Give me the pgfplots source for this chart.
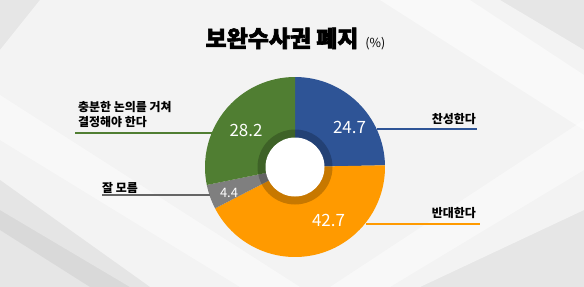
\documentclass[border=0pt]{standalone}
\usepackage{pgfplots}
\pgfplotsset{compat=1.18}
\usepackage{fontspec}
\setmainfont{Noto Sans CJK KR}
\newfontfamily\titlefont[BoldFeatures={FakeBold=2.6}]{Noto Sans CJK KR}
\definecolor{cBlue}{HTML}{2E5496}
\definecolor{cOrange}{HTML}{FF9A00}
\definecolor{cGreen}{HTML}{507E32}
\definecolor{cGray}{HTML}{7F7F7F}
\definecolor{bgA}{HTML}{E6E6E6}
\begin{document}
\begin{tikzpicture}
\begin{axis}[hide axis, scale only axis, width=584bp, height=287bp,
  xmin=0, xmax=584, ymin=0, ymax=287, y dir=reverse, clip=false]
% background
\fill[bgA] (axis cs:0,0) rectangle (axis cs:584,287);
\fill[white, opacity=0.55] (axis cs:40,0) -- (axis cs:500,0) -- (axis cs:584,50) -- (axis cs:584,210) -- (axis cs:420,287) -- (axis cs:130,287) -- (axis cs:0,210) -- (axis cs:0,50) -- cycle;
\fill[white, opacity=0.45] (axis cs:0,95) -- (axis cs:0,140) -- (axis cs:240,287) -- (axis cs:300,287) -- cycle;
\fill[white, opacity=0.45] (axis cs:584,120) -- (axis cs:584,170) -- (axis cs:390,287) -- (axis cs:330,287) -- cycle;
\fill[white, opacity=0.5] (axis cs:380,0) -- (axis cs:470,0) -- (axis cs:584,75) -- (axis cs:584,130) -- cycle;
\fill[gray, opacity=0.12] (axis cs:0,180) -- (axis cs:0,230) -- (axis cs:90,287) -- (axis cs:150,287) -- cycle;
% donut
\pgfplotsextra{
  \xdef\angstart{90}
  \foreach \v/\c in {24.7/cBlue, 42.7/cOrange, 4.4/cGray, 28.2/cGreen}{
    \pgfmathsetmacro\angend{\angstart-\v*3.6}
    \fill[\c] (axis cs:295,167) -- ++(\angstart:90bp) arc[start angle=\angstart, end angle=\angend, radius=90bp] -- cycle;
    \xdef\angstart{\angend}
  }
  \fill[black, opacity=0.22] (axis cs:295,167) circle[radius=37.5bp];
  \fill[white] (axis cs:295,167) circle[radius=29.5bp];
}
% values
\node[anchor=base, text=white, font=\fontsize{17}{20}\selectfont] at (axis cs:349.5,133.5) {24.7};
\node[anchor=base, text=white, font=\fontsize{17}{20}\selectfont] at (axis cs:328.5,226) {42.7};
\node[anchor=base, text=white, font=\fontsize{13}{15}\selectfont] at (axis cs:229,197) {4.4};
\node[anchor=base, text=white, font=\fontsize{17}{20}\selectfont] at (axis cs:246,136) {28.2};
% leader lines
\draw[cBlue, line width=1.5bp] (axis cs:377,129) -- (axis cs:477,129);
\draw[cOrange, line width=1.5bp] (axis cs:366,224) -- (axis cs:480,224);
\draw[cGreen, line width=1.5bp] (axis cs:75,133) -- (axis cs:212,133);
\draw[cGray!80!black, line width=1.5bp] (axis cs:102,195) -- (axis cs:210,195);
% category labels
\node[anchor=base east, inner sep=0pt, font=\fontsize{12}{14}\selectfont\bfseries] at (axis cs:476,123) {찬성한다};
\node[anchor=base east, inner sep=0pt, font=\fontsize{12}{14}\selectfont\bfseries] at (axis cs:476,217.5) {반대한다};
\node[anchor=base west, inner sep=0pt, font=\fontsize{12}{14}\selectfont\bfseries] at (axis cs:78,111.5) {충분한 논의를 거쳐};
\node[anchor=base west, inner sep=0pt, font=\fontsize{12}{14}\selectfont\bfseries] at (axis cs:78,126.5) {결정해야 한다};
\node[anchor=base west, inner sep=0pt, font=\fontsize{12}{14}\selectfont\bfseries] at (axis cs:102,192) {잘 모름};
% title
\node[anchor=base, inner sep=0pt] at (axis cs:295.5,47) {{\titlefont\fontsize{23}{27}\selectfont\bfseries 보완수사권 폐지}\hspace{7bp}{\fontsize{12.5}{14}\selectfont (\%)}};
\end{axis}
\end{tikzpicture}
\end{document}
